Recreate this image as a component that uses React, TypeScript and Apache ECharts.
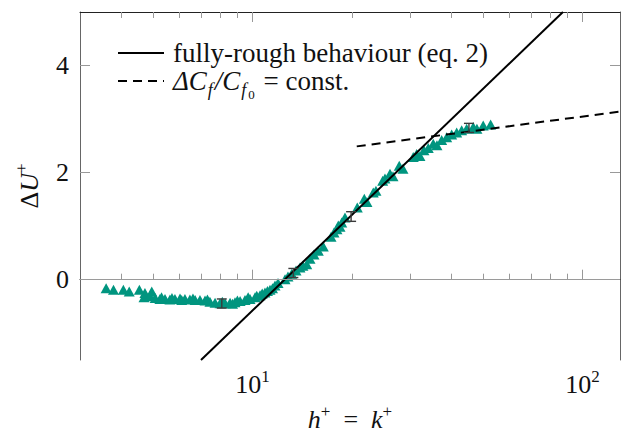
import React, { useEffect, useRef } from 'react';
import * as echarts from 'echarts';

// measured data: roughness function vs roughness height
const kPlus = [
  3.6, 3.79, 4.06, 4.23, 4.54, 4.72, 4.95, 4.69, 4.89, 5.07, 5.24, 5.43, 5.62, 5.82, 6.03, 6.24, 6.46, 6.7, 6.93,
  7.18, 7.43, 7.7, 7.97, 8.26, 8.55, 8.85, 9.17, 9.49, 9.83, 10.18, 10.54, 10.91, 11.3, 11.7, 11.95,
  5.3, 5.7, 6.1, 6.6, 7.3, 8.1, 8.7, 9.0, 9.7, 10.3, 10.7, 11.1, 11.5,
  12.55, 12.81, 13.15, 13.55, 13.93, 14.22, 14.6, 14.94, 15.36, 15.83, 16.39, 17.3, 17.66, 18.03, 18.2, 18.42,
  18.64, 19.07, 20.78, 21.82, 22.23, 23.23, 23.67, 24.81, 25.21, 26.11, 26.66, 27.85, 28.58, 30.71, 31.45,
  32.18, 33.09, 34.1, 35.31, 36.23, 37.44, 38.78, 40.15, 41.58, 43.05, 44.58, 46.68, 47.89, 50.04, 52.7,
];
const deltaU = [
  -0.16, -0.19, -0.19, -0.22, -0.19, -0.25, -0.22, -0.33, -0.31, -0.34, -0.36, -0.36, -0.37, -0.36, -0.35, -0.36, -0.37, -0.38, -0.38,
  -0.39, -0.41, -0.43, -0.44, -0.44, -0.43, -0.42, -0.4, -0.38, -0.36, -0.33, -0.29, -0.24, -0.19, -0.11, -0.06,
  -0.33, -0.34, -0.38, -0.35, -0.37, -0.41, -0.45, -0.39, -0.33, -0.3, -0.26, -0.21, -0.16,
  0.01, 0.06, 0.11, 0.17, 0.23, 0.26, 0.29, 0.39, 0.47, 0.54, 0.62, 0.8, 0.88, 0.94, 1.01, 0.99,
  1.07, 1.16, 1.35, 1.51, 1.45, 1.63, 1.66, 1.85, 1.89, 1.98, 1.93, 2.13, 2.07, 2.29, 2.35,
  2.31, 2.42, 2.46, 2.54, 2.51, 2.61, 2.66, 2.71, 2.75, 2.79, 2.82, 2.85, 2.82, 2.88, 2.9,
];

// error bars
const errK = [8.07, 13.3, 19.9, 45.3];
const errLow = [-0.53, 0.04, 1.09, 2.75];
const errHigh = [-0.36, 0.21, 1.27, 2.92];

// fully-rough behaviour (eq. 2)
const roughK = [6.98, 87.3];
const roughU = [-1.5, 5.0];

// constant skin-friction increase
const constK = [20.7, 130];
const constU = [2.49, 3.14];

const xMajorTicks = [10, 100];
const xMinorTicks = [4, 5, 6, 7, 8, 9, 20, 30, 40, 50, 60, 70, 80, 90];
const yTicks = [0, 2, 4];

const NAME_ROUGH = 'fully-rough behaviour (eq. 2)';
const NAME_CONST = 'ΔCf/Cf0 = const.';

const SERIF = 'Liberation Serif';
const TEXT = '#111';
const TICK = '#999';

export default function App() {
  const ref = useRef<HTMLDivElement>(null);

  useEffect(() => {
    if (!ref.current) return;
    const chart = echarts.init(ref.current, undefined, { renderer: 'svg' });

    const supRich = {
      b: { fontFamily: SERIF, fontSize: 26, color: TEXT, verticalAlign: 'bottom', lineHeight: 28 },
      s: { fontFamily: SERIF, fontSize: 17, color: TEXT, verticalAlign: 'bottom', lineHeight: 18, padding: [0, 0, 12, 0] },
    };
    const nameRich = {
      i: { fontFamily: SERIF, fontStyle: 'italic', fontSize: 26, color: TEXT, verticalAlign: 'bottom', lineHeight: 28 },
      n: { fontFamily: SERIF, fontSize: 26, color: TEXT, verticalAlign: 'bottom', lineHeight: 28 },
      s: { fontFamily: SERIF, fontSize: 17, color: TEXT, verticalAlign: 'bottom', lineHeight: 18, padding: [0, 0, 12, 0] },
    };

    const xBase = { type: 'log', logBase: 10, min: 3, max: 130, gridIndex: 0, splitLine: { show: false } };
    const yBase = { type: 'value', min: -1.5, max: 5, gridIndex: 0, splitLine: { show: false } };

    chart.setOption({
      animation: false,
      backgroundColor: '#ffffff',
      textStyle: { fontFamily: SERIF },
      grid: { left: 80, top: 12, width: 540, height: 348, containLabel: false, outerBoundsMode: 'none' },
      legend: {
        show: true,
        orient: 'vertical',
        left: 112,
        top: 34,
        padding: 5,
        itemWidth: 46,
        itemHeight: 14,
        itemGap: 1,
        itemStyle: { opacity: 0 },
        data: [NAME_ROUGH, NAME_CONST],
        formatter: (name: string) =>
          name === NAME_ROUGH
            ? '{n|fully-rough behaviour (eq. 2)}'
            : '{i|ΔC}{sub|f}{i|/C}{sub|f}{subsub|0}{n| = const.}',
        textStyle: {
          fontFamily: SERIF,
          fontSize: 27,
          color: TEXT,
          padding: [0, 0, 0, 4],
          rich: {
            n: { fontFamily: SERIF, fontSize: 27, color: TEXT, verticalAlign: 'top', lineHeight: 28 },
            i: { fontFamily: SERIF, fontStyle: 'italic', fontSize: 27, color: TEXT, verticalAlign: 'top', lineHeight: 28, padding: [0, 1, 0, 0] },
            sub: { fontFamily: SERIF, fontStyle: 'italic', fontSize: 18, color: TEXT, verticalAlign: 'top', lineHeight: 18, padding: [14, 2, 0, 0] },
            subsub: { fontFamily: SERIF, fontSize: 13, color: TEXT, verticalAlign: 'top', lineHeight: 13, padding: [21, 2, 0, 0] },
          },
        },
      },
      xAxis: [
        {
          ...xBase,
          position: 'bottom',
          axisLine: { show: true, lineStyle: { color: '#222', width: 1 } },
          axisTick: { show: true, inside: true, length: 10, customValues: xMajorTicks, lineStyle: { color: TICK, width: 1 } },
          axisLabel: {
            show: true,
            customValues: xMajorTicks,
            margin: 9,
            fontFamily: SERIF,
            formatter: (v: number) => `{b|10}{s|${Math.round(Math.log10(v))}}`,
            rich: supRich,
          },
          name: '{i|h}{s|+}{n|  =  }{i|k}{s|+}',
          nameLocation: 'middle',
          nameGap: 44,
          nameTextStyle: { fontFamily: SERIF, rich: nameRich },
        },
        {
          ...xBase,
          position: 'bottom',
          axisLine: { show: false },
          axisTick: { show: true, inside: true, length: 6, customValues: xMinorTicks, lineStyle: { color: TICK, width: 1 } },
          axisLabel: { show: false },
        },
        {
          ...xBase,
          position: 'top',
          axisLine: { show: true, lineStyle: { color: '#222', width: 1 } },
          axisTick: { show: true, inside: true, length: 10, customValues: xMajorTicks, lineStyle: { color: TICK, width: 1 } },
          axisLabel: { show: false },
        },
        {
          ...xBase,
          position: 'top',
          axisLine: { show: false },
          axisTick: { show: true, inside: true, length: 6, customValues: xMinorTicks, lineStyle: { color: TICK, width: 1 } },
          axisLabel: { show: false },
        },
      ],
      yAxis: [
        {
          ...yBase,
          position: 'left',
          axisLine: { show: true, lineStyle: { color: '#666', width: 1 } },
          axisTick: { show: true, inside: true, length: 10, customValues: yTicks, lineStyle: { color: TICK, width: 1 } },
          axisLabel: { show: true, customValues: yTicks, margin: 11, fontFamily: SERIF, fontSize: 26, color: TEXT },
          name: '{d|Δ}{i|U}{s|+}',
          nameLocation: 'middle',
          nameGap: 38,
          nameRotate: 90,
          nameTextStyle: {
            fontFamily: SERIF,
            rich: {
              d: { fontFamily: SERIF, fontSize: 26, color: TEXT, verticalAlign: 'bottom', lineHeight: 28 },
              i: nameRich.i,
              s: nameRich.s,
            },
          },
        },
        {
          ...yBase,
          position: 'right',
          axisLine: { show: true, lineStyle: { color: '#666', width: 1 } },
          axisTick: { show: true, inside: true, length: 10, customValues: yTicks, lineStyle: { color: TICK, width: 1 } },
          axisLabel: { show: false },
        },
      ],
      series: [
        {
          type: 'scatter',
          name: 'data',
          xAxisIndex: 0,
          yAxisIndex: 0,
          symbol: 'triangle',
          symbolSize: [11, 10],
          itemStyle: { color: '#00957f', opacity: 1 },
          z: 3,
          data: kPlus.map((k, i) => [k, deltaU[i]]),
          markLine: {
            silent: true,
            symbol: 'none',
            label: { show: false },
            lineStyle: { color: '#9a9a9a', type: 'solid', width: 1.2 },
            data: [{ yAxis: 0 }],
          },
        },
        {
          type: 'line',
          name: NAME_ROUGH,
          xAxisIndex: 0,
          yAxisIndex: 0,
          symbol: 'none',
          lineStyle: { color: '#000', width: 2, type: 'solid' },
          itemStyle: { color: '#000' },
          z: 4,
          data: roughK.map((k, i) => [k, roughU[i]]),
        },
        {
          type: 'line',
          name: NAME_CONST,
          xAxisIndex: 0,
          yAxisIndex: 0,
          symbol: 'none',
          lineStyle: { color: '#000', width: 2, type: [9, 6] },
          itemStyle: { color: '#000' },
          z: 4,
          data: constK.map((k, i) => [k, constU[i]]),
        },
        {
          type: 'custom',
          name: 'error',
          xAxisIndex: 0,
          yAxisIndex: 0,
          z: 5,
          encode: { x: 0, y: [1, 2] },
          renderItem: (params: any, api: any) => {
            const x = api.value(0);
            const a = api.coord([x, api.value(1)]);
            const b = api.coord([x, api.value(2)]);
            const w = 5;
            const style = { stroke: '#3a3a3a', lineWidth: 1.4 };
            return {
              type: 'group',
              children: [
                { type: 'line', shape: { x1: a[0], y1: a[1], x2: b[0], y2: b[1] }, style },
                { type: 'line', shape: { x1: a[0] - w, y1: a[1], x2: a[0] + w, y2: a[1] }, style },
                { type: 'line', shape: { x1: b[0] - w, y1: b[1], x2: b[0] + w, y2: b[1] }, style },
              ],
            };
          },
          data: errK.map((k, i) => [k, errLow[i], errHigh[i]]),
        },
      ],
    });

    return () => chart.dispose();
  }, []);

  return (
    <div
      ref={ref}
      style={{ position: 'absolute', left: 0, top: 0, width: 621, height: 435, background: '#fff' }}
    />
  );
}
